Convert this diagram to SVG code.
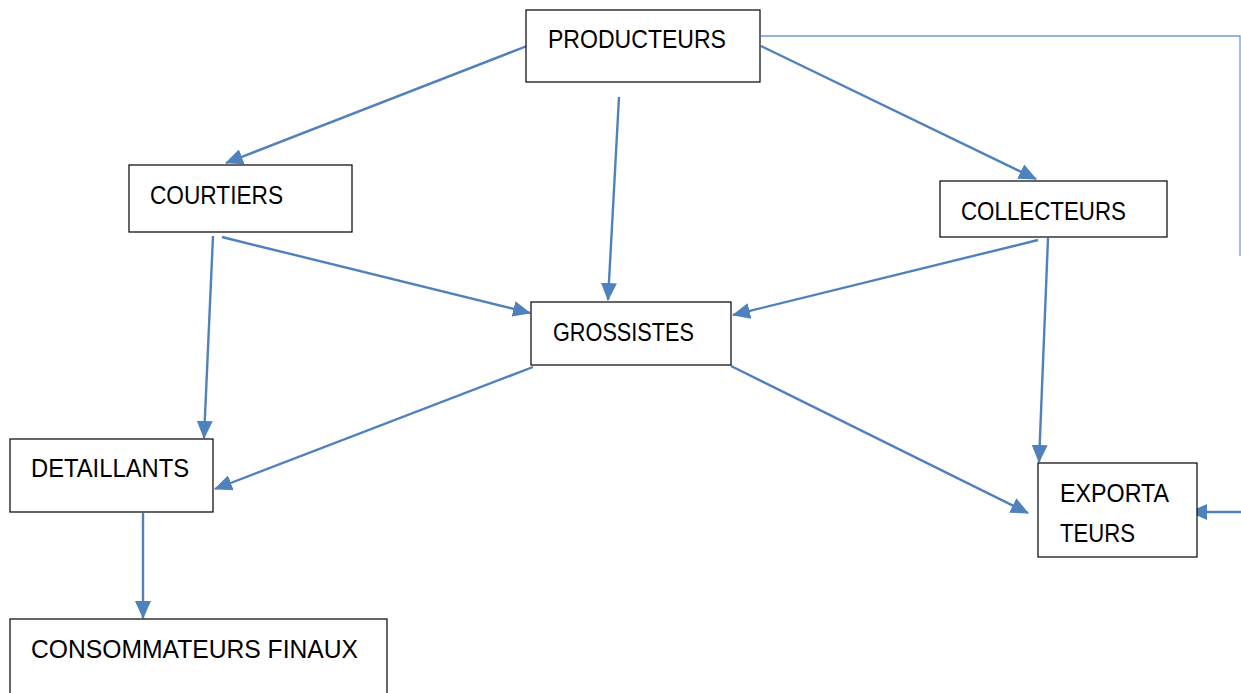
<svg xmlns="http://www.w3.org/2000/svg" width="1241" height="693" viewBox="0 0 1241 693">
<style>
.box{fill:#fff;stroke:#000;stroke-width:1.2}
.lbl{font-family:"Liberation Sans",Arial,sans-serif;font-size:25px;fill:#000}
.c{stroke:#4f81bd;stroke-width:2.4;fill:none}
.thin{stroke:#6f9bd4;stroke-width:1.3;fill:none}
</style>
<defs>
<marker id="ah" markerUnits="userSpaceOnUse" markerWidth="18" markerHeight="16" viewBox="0 0 18 16" refX="17" refY="8" orient="auto">
<path d="M0,0 L18,8 L0,16 Z" fill="#4f81bd"/>
</marker>
</defs>
<rect width="1241" height="693" fill="#fff"/>
<g id="connectors">
<line class="c" x1="527" y1="46" x2="226" y2="163" marker-end="url(#ah)"/>
<line class="c" x1="619" y1="97" x2="608" y2="300" marker-end="url(#ah)"/>
<line class="c" x1="761" y1="46" x2="1036" y2="179" marker-end="url(#ah)"/>
<polyline class="thin" points="761,36 1240,36 1240,256"/>
<line class="c" x1="213" y1="236" x2="204" y2="438" marker-end="url(#ah)"/>
<line class="c" x1="222" y1="237" x2="530" y2="313" marker-end="url(#ah)"/>
<line class="c" x1="1038" y1="240" x2="733" y2="315" marker-end="url(#ah)"/>
<line class="c" x1="1048" y1="238" x2="1039" y2="462" marker-end="url(#ah)"/>
<line class="c" x1="533" y1="367" x2="215" y2="489" marker-end="url(#ah)"/>
<line class="c" x1="731" y1="366" x2="1028" y2="513" marker-end="url(#ah)"/>
<line class="c" x1="143" y1="513" x2="143" y2="618" marker-end="url(#ah)"/>
<line class="c" x1="1241" y1="512" x2="1190" y2="512" marker-end="url(#ah)"/>
</g>
<g id="producteurs">
<rect class="box" x="526" y="10" width="234" height="72"/>
<text class="lbl" x="548" y="48" textLength="178" lengthAdjust="spacingAndGlyphs">PRODUCTEURS</text>
</g>
<g id="courtiers">
<rect class="box" x="129" y="165" width="223" height="67"/>
<text class="lbl" x="150" y="204" textLength="133" lengthAdjust="spacingAndGlyphs">COURTIERS</text>
</g>
<g id="collecteurs">
<rect class="box" x="940" y="181" width="227" height="56"/>
<text class="lbl" x="961" y="220" textLength="165" lengthAdjust="spacingAndGlyphs">COLLECTEURS</text>
</g>
<g id="grossistes">
<rect class="box" x="531" y="302" width="200" height="63"/>
<text class="lbl" x="553" y="341" textLength="141" lengthAdjust="spacingAndGlyphs">GROSSISTES</text>
</g>
<g id="detaillants">
<rect class="box" x="10" y="439" width="203" height="73"/>
<text class="lbl" x="31" y="477" textLength="158" lengthAdjust="spacingAndGlyphs">DETAILLANTS</text>
</g>
<g id="exportateurs">
<rect class="box" x="1038" y="463" width="159" height="94"/>
<text class="lbl" x="1060" y="502" textLength="109" lengthAdjust="spacingAndGlyphs">EXPORTA</text>
<text class="lbl" x="1060" y="542" textLength="75" lengthAdjust="spacingAndGlyphs">TEURS</text>
</g>
<g id="consommateurs">
<rect class="box" x="10" y="619" width="377" height="80"/>
<text class="lbl" x="31" y="658" textLength="327" lengthAdjust="spacingAndGlyphs">CONSOMMATEURS FINAUX</text>
</g>
</svg>
